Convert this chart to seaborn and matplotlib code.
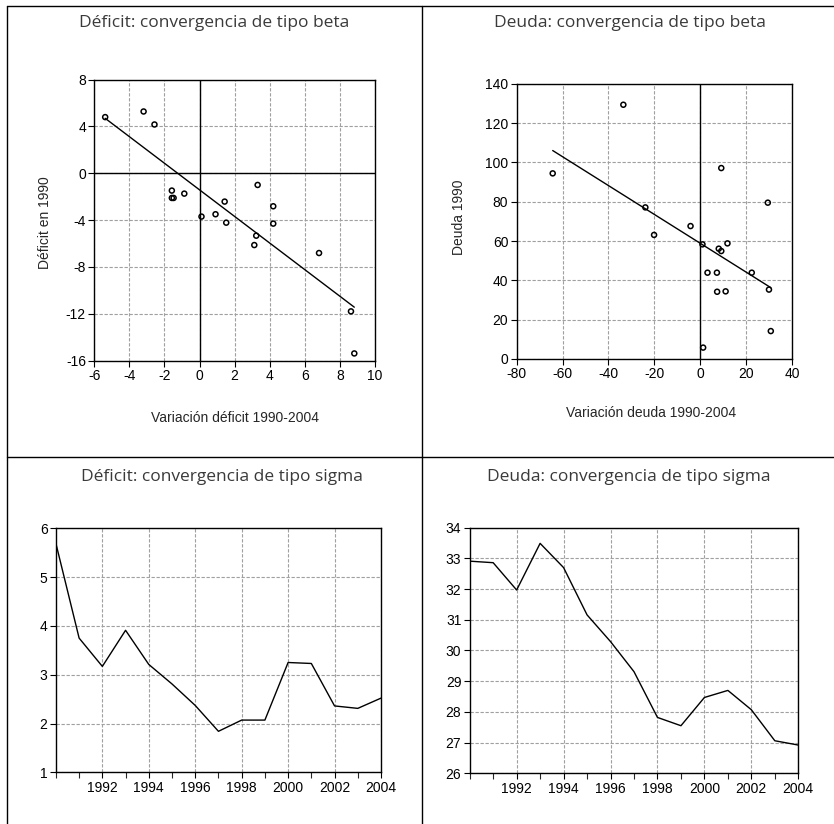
import numpy as np
import pandas as pd
import matplotlib
matplotlib.use("Agg")
import matplotlib.pyplot as plt
from matplotlib.lines import Line2D
from matplotlib.ticker import MultipleLocator
import seaborn as sns

# ── Data ──────────────────────────────────────────────────────────────────────
# Déficit: variación 1990-2004 vs déficit en 1990
def_var = [-5.38, -3.19, -2.57, -1.58, -1.58, -1.48, -0.87, 0.11, 0.91, 1.43,
           1.52, 3.31, 3.23, 3.12, 4.20, 4.20, 6.81, 8.63, 8.82]
def_1990 = [4.79, 5.27, 4.16, -1.48, -2.11, -2.11, -1.74, -3.70, -3.50, -2.42,
            -4.22, -1.00, -5.33, -6.13, -2.82, -4.30, -6.81, -11.79, -15.38]

# Deuda: variación 1990-2004 vs deuda en 1990
deu_var = [-64.3, -33.5, -23.9, -20.1, -4.2, 1.0, 1.3, 3.2, 7.3, 7.4,
           8.1, 9.2, 9.2, 11.1, 11.9, 22.5, 29.5, 30.0, 30.8]
deu_1990 = [94.4, 129.3, 77.1, 63.1, 67.6, 58.3, 5.8, 43.9, 43.9, 34.2,
            56.1, 54.9, 97.1, 34.4, 58.8, 43.9, 79.5, 35.3, 14.2]

# Convergencia sigma (desviación típica por año)
years = list(range(1990, 2005))
def_sigma = [5.69, 3.75, 3.17, 3.91, 3.21, 2.81, 2.37, 1.84, 2.07, 2.07,
             3.25, 3.23, 2.36, 2.31, 2.52]
deu_sigma = [32.91, 32.86, 31.97, 33.49, 32.70, 31.16, 30.29, 29.31, 27.82, 27.55,
             28.47, 28.70, 28.07, 27.06, 26.92]

titles = ["Déficit: convergencia de tipo beta", "Deuda: convergencia de tipo beta",
          "Déficit: convergencia de tipo sigma", "Deuda: convergencia de tipo sigma"]

# ── Figure ────────────────────────────────────────────────────────────────────
sns.set_style("ticks")
plt.rcParams["font.family"] = ["Liberation Sans", "DejaVu Sans"]
plt.rcParams["axes.unicode_minus"] = False

W, H = 834, 824
fig = plt.figure(figsize=(W / 100, H / 100), dpi=100)


def px_axes(left, top, right, bottom):
    return fig.add_axes([left / W, 1 - bottom / H, (right - left) / W, (bottom - top) / H])


def style(ax):
    for sp in ax.spines.values():
        sp.set_visible(True)
        sp.set_color("black")
        sp.set_linewidth(1.0)
    ax.grid(True, color="#a0a0a0", linestyle=(0, (3, 1.5)), linewidth=0.8)
    ax.set_axisbelow(True)
    ax.tick_params(direction="out", length=4, width=0.8, labelsize=10, colors="black", pad=2)


GRAY_TXT = "#3a3a3a"
title_font = dict(family=["Open Sans", "DejaVu Sans"], fontsize=12.5, color=GRAY_TXT,
                  ha="center", va="center")
scat_kw = dict(marker="o", s=13, facecolor="none", edgecolor="black", linewidth=1.1, zorder=4)

# Panel 1
ax1 = px_axes(94.3, 79.5, 375, 360.7)
sns.scatterplot(x=def_var, y=def_1990, ax=ax1, **scat_kw)
sns.regplot(x=def_var, y=def_1990, ax=ax1, scatter=False, ci=None,
            line_kws=dict(color="black", linewidth=1.0))
ax1.axvline(0, color="black", linewidth=1.0, zorder=2)
ax1.axhline(0, color="black", linewidth=1.0, zorder=2)
ax1.set_xlim(-6, 10)
ax1.set_ylim(-16, 8)
ax1.set_xticks(np.arange(-6, 11, 2))
ax1.set_yticks(np.arange(-16, 9, 4))
style(ax1)
ax1.set_xlabel("")
ax1.set_ylabel("")
fig.text(235 / W, 1 - 418 / H, "Variación déficit 1990-2004", ha="center", va="center",
         fontsize=10)
fig.text(45 / W, 1 - 223 / H, "Déficit en 1990", ha="center", va="center",
         rotation=90, fontsize=10)

# Panel 2
ax2 = px_axes(516.7, 83.7, 791.9, 359)
sns.scatterplot(x=deu_var, y=deu_1990, ax=ax2, **scat_kw)
sns.regplot(x=deu_var, y=deu_1990, ax=ax2, scatter=False, ci=None,
            line_kws=dict(color="black", linewidth=1.0))
ax2.axvline(0, color="black", linewidth=1.0, zorder=2)
ax2.set_xlim(-80, 40)
ax2.set_ylim(0, 140)
ax2.set_xticks(np.arange(-80, 41, 20))
ax2.set_yticks(np.arange(0, 141, 20))
style(ax2)
ax2.set_xlabel("")
ax2.set_ylabel("")
fig.text(651 / W, 1 - 413 / H, "Variación deuda 1990-2004", ha="center", va="center",
         fontsize=10)
fig.text(459 / W, 1 - 217 / H, "Deuda 1990", ha="center", va="center",
         rotation=90, fontsize=10)

# Panel 3
ax3 = px_axes(55.9, 528.3, 381, 772.3)
sns.lineplot(x=years, y=def_sigma, ax=ax3, color="black", linewidth=1.0)
ax3.set_xlim(1990, 2004)
ax3.set_ylim(1, 6)
ax3.set_yticks(np.arange(1, 7, 1))

# Panel 4
ax4 = px_axes(469.7, 527.7, 798.3, 773.3)
sns.lineplot(x=years, y=deu_sigma, ax=ax4, color="black", linewidth=1.0)
ax4.set_xlim(1990, 2004)
ax4.set_ylim(26, 34)
ax4.set_yticks(np.arange(26, 35, 1))

for ax in (ax3, ax4):
    ax.set_xticks(np.arange(1992, 2005, 2))
    ax.xaxis.set_minor_locator(MultipleLocator(1))
    style(ax)
    ax.tick_params(axis="x", which="minor", direction="out", length=4, width=0.8)
    ax.set_xlabel("")
    ax.set_ylabel("")

# Titles
fig.text(214 / W, 1 - 23 / H, titles[0], **title_font)
fig.text(630 / W, 1 - 23 / H, titles[1], **title_font)
fig.text(222 / W, 1 - 477 / H, titles[2], **title_font)
fig.text(629 / W, 1 - 477 / H, titles[3], **title_font)

# Table borders
def fig_line(x0, y0, x1, y1):
    fig.add_artist(Line2D([x0 / W, x1 / W], [1 - y0 / H, 1 - y1 / H],
                          color="black", linewidth=1.0))

fig_line(7, 6, W, 6)
fig_line(7, 6, 7, H)
fig_line(422, 6, 422, H)
fig_line(7, 457, W, 457)

fig.savefig("out.png", dpi=100)
